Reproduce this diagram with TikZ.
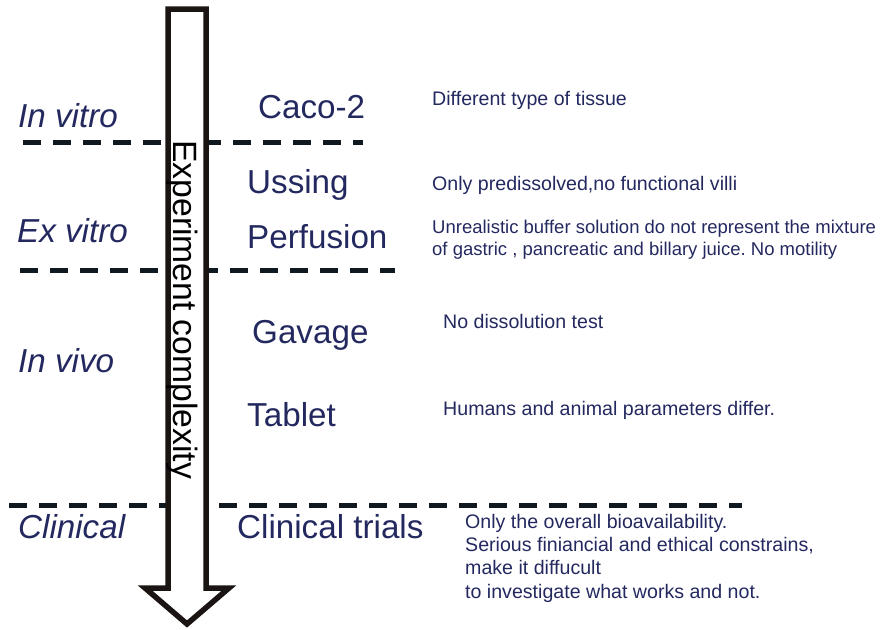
\documentclass[tikz,border=0pt]{standalone}
\usepackage{fontspec}
\setmainfont{Liberation Sans}
\usetikzlibrary{positioning}
\definecolor{labelnavy}{RGB}{35,40,95}
\definecolor{sepdark}{RGB}{16,24,32}
\definecolor{arrowdark}{RGB}{26,21,18}
\frenchspacing

\begin{document}
\begin{tikzpicture}[x=1pt, y=-1pt,
  stage/.style={anchor=base west, inner sep=0pt, text=labelnavy, font=\fontsize{33.2}{38}\selectfont\itshape},
  method/.style={anchor=base west, inner sep=0pt, text=labelnavy, font=\fontsize{33.2}{38}\selectfont},
  remark/.style={anchor=base west, inner sep=0pt, text=labelnavy, align=left, font=\fontsize{19.6}{23.3}\selectfont},
  sepline/.style={sepdark, line width=5pt, dash pattern=on 18pt off 12pt}]
  \useasboundingbox (0,0) rectangle (880,629);

  % Separators
  \draw[sepline] (23,142) -- (363,142);
  \draw[sepline] (20,270) -- (395,270);
  \draw[sepline] (9,505) -- (742,505);

  % Complexity arrow
  \draw[arrowdark, fill=white, line width=5.5pt, miter limit=10]
    (168,9) -- (168,588) -- (145,588) -- (187,624) -- (229,588) -- (206,588) -- (206,9) -- cycle;
  \node[rotate=-90, anchor=base west, inner sep=0pt, font=\fontsize{33.7}{38}\selectfont] (axis) at (173,140) {Experiment complexity};

  % Stages
  \node[stage] (invitro) at (18,127) {In vitro};
  \node[stage] (exvitro) at (17,242) {Ex vitro};
  \node[stage] (invivo) at (18,372) {In vivo};
  \node[stage] (clinical) at (18,538) {Clinical};

  % Methods
  \node[method] (caco) at (258,118) {Caco-2};
  \node[method] (ussing) at (247,193) {Ussing};
  \node[method] (perfusion) at (247,248) {Perfusion};
  \node[method] (gavage) at (252,343) {Gavage};
  \node[method] (tablet) at (247,426) {Tablet};
  \node[method] (trials) at (237,538) {Clinical trials};

  % Drawbacks (base = last line)
  \node[remark] (tissue) at (432,105) {Different type of tissue};
  \node[remark] (villi) at (432,190) {Only predissolved,no functional villi};
  \node[remark, font=\fontsize{18.5}{22}\selectfont] (buffer) at (432,255) {Unrealistic buffer solution do not represent the mixture\\of gastric , pancreatic and billary juice. No motility};
  \node[remark] (dissol) at (443,328) {No dissolution test};
  \node[remark] (differ) at (443,415) {Humans and animal parameters differ.};
  \node[remark] (overall) at (465,598) {Only the overall bioavailability.\\Serious finiancial and ethical constrains,\\make it diffucult\\to investigate what works and not.};
\end{tikzpicture}
\end{document}
